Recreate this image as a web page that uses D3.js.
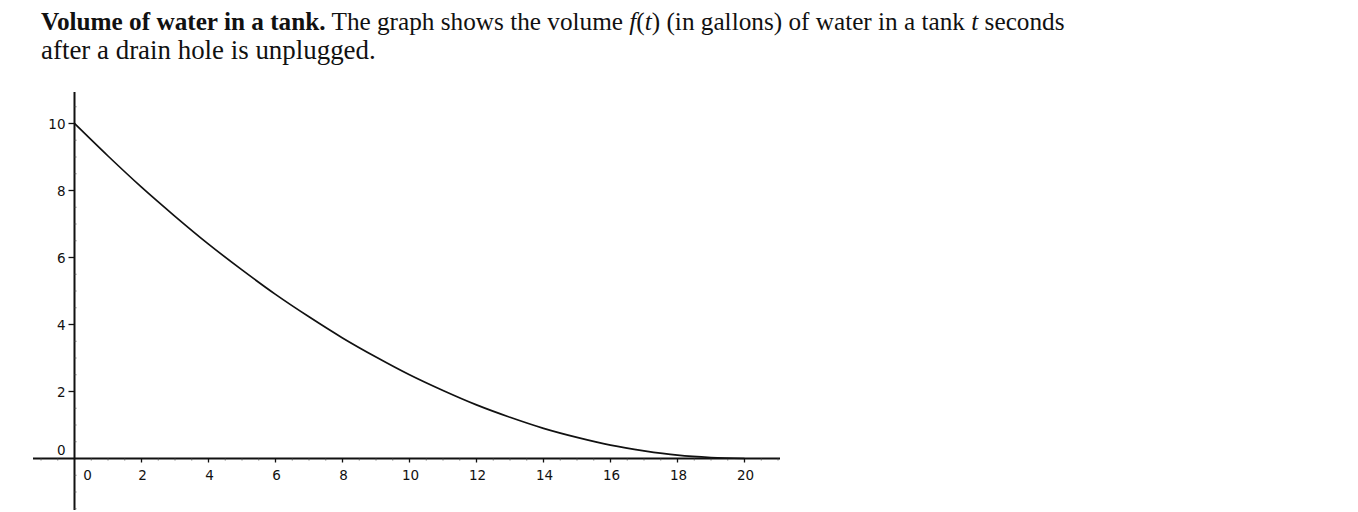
<!DOCTYPE html>
<html><head><meta charset="utf-8">
<script src="https://cdn.jsdelivr.net/npm/d3@7"></script>
<style>html,body{margin:0;padding:0;background:#fff;}</style>
</head><body>
<svg id="c" width="1358" height="512"></svg>
<script>
const tValues = [0,1,2,3,4,5,6,7,8,9,10,11,12,13,14,15,16,17,18,19,20];
const volumeValues = [10,9.03,8.1,7.23,6.4,5.63,4.9,4.23,3.6,3.03,2.5,2.03,1.6,1.23,0.9,0.63,0.4,0.23,0.1,0.03,0];
const xTicks = [0,2,4,6,8,10,12,14,16,18,20];
const yTicks = [0,2,4,6,8,10];

const svg = d3.select("#c");
const x = d3.scaleLinear().domain([0,20]).range([74.5,744.5]);
const y = d3.scaleLinear().domain([0,10]).range([458.5,123.5]);

function fitSize(sel, base, target){
  const w = sel.node().getComputedTextLength();
  sel.style("font-size", (base*target/w)+"px");
}

// title
const title = svg.append("text").attr("x",41).attr("y",30)
  .style("font-family","'Liberation Serif','DejaVu Serif',serif").style("font-size","21px").attr("fill","#111");
title.append("tspan").attr("font-weight","bold").text("Volume of water in a tank.");
title.append("tspan").text(" The graph shows the volume ");
title.append("tspan").attr("font-style","italic").text("f");
title.append("tspan").text("(");
title.append("tspan").attr("font-style","italic").text("t");
title.append("tspan").text(")  (in gallons) of water in a tank ");
title.append("tspan").attr("font-style","italic").text("t");
title.append("tspan").text(" seconds");
fitSize(title, 21, 1024);

const t2 = svg.append("text").attr("x",41).attr("y",59)
  .style("font-family","'Liberation Serif','DejaVu Serif',serif").style("font-size","21px").attr("fill","#111")
  .text("after a drain hole is unplugged.");
fitSize(t2, 21, 335);

// axes lines
const g = svg.append("g");
g.append("line").attr("x1",33).attr("x2",780).attr("y1",y(0)).attr("y2",y(0)).attr("stroke","#111").attr("stroke-width",2);
g.append("line").attr("x1",x(0)).attr("x2",x(0)).attr("y1",92).attr("y2",510).attr("stroke","#111").attr("stroke-width",2);

// minor ticks
const xMinor = d3.range(-1,21.01,0.5).filter(v=>!xTicks.includes(v));
g.selectAll(".xm").data(xMinor).join("line")
  .attr("x1",d=>x(d)).attr("x2",d=>x(d)).attr("y1",y(0)).attr("y2",y(0)+2)
  .attr("stroke","#555").attr("stroke-width",0.8);
const yMinor = d3.range(-1.5,10.6,0.5).filter(v=>!yTicks.includes(v));
g.selectAll(".ym").data(yMinor).join("line")
  .attr("x1",x(0)).attr("x2",x(0)+2).attr("y1",d=>y(d)).attr("y2",d=>y(d))
  .attr("stroke","#555").attr("stroke-width",0.8);

// major ticks
g.selectAll(".xt").data(xTicks.filter(d=>d!==0)).join("line")
  .attr("x1",d=>x(d)).attr("x2",d=>x(d)).attr("y1",y(0)).attr("y2",y(0)+4)
  .attr("stroke","#111").attr("stroke-width",1.3);
g.selectAll(".yt").data(yTicks.filter(d=>d!==0)).join("line")
  .attr("x1",x(0)-6).attr("x2",x(0)).attr("y1",d=>y(d)).attr("y2",d=>y(d))
  .attr("stroke","#111").attr("stroke-width",1.3);

// tick labels
const lf = "'DejaVu Sans',sans-serif", ls = "13.5px";
g.selectAll(".xl").data(xTicks).join("text")
  .attr("x",d=>d===0?x(d)+13:x(d)+1).attr("y",y(0)+21).attr("text-anchor","middle")
  .style("font-family",lf).style("font-size",ls).attr("fill","#111")
  .text(d=>d);
g.selectAll(".yl").data(yTicks).join("text")
  .attr("x",d=>d===0?x(0)-9:x(0)-9).attr("y",d=>d===0?y(d)-4:y(d)+5).attr("text-anchor","end")
  .style("font-family",lf).style("font-size",ls).attr("fill","#111")
  .text(d=>d);

// curve
const data = tValues.map((t,i)=>({t, v: volumeValues[i]}));
const line = d3.line().x(d=>x(d.t)).y(d=>y(d.v)).curve(d3.curveMonotoneX);
svg.append("path").datum(data).attr("d",line).attr("fill","none").attr("stroke","#111").attr("stroke-width",1.7);
</script>
</body></html>
